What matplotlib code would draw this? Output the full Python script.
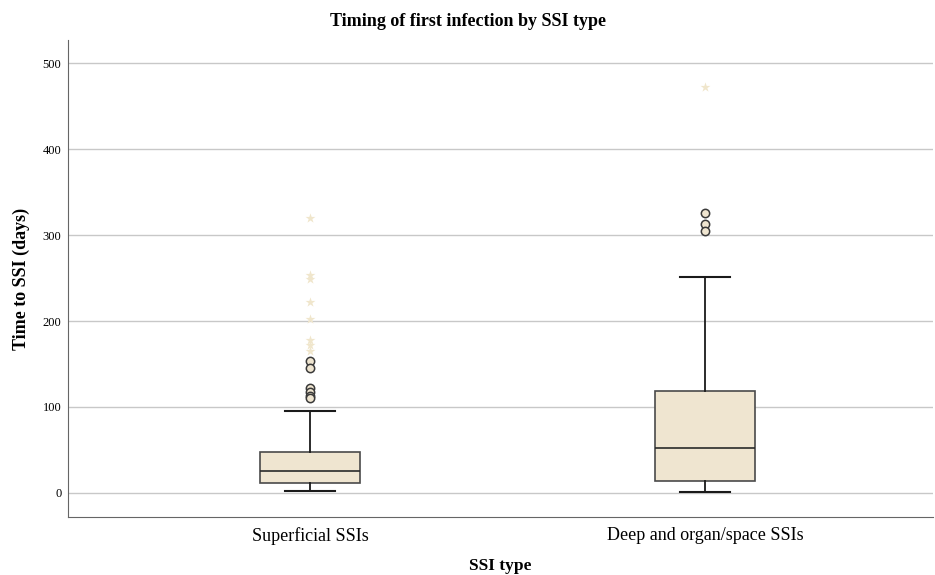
import matplotlib.pyplot as plt

plt.rcParams['font.family'] = ['Liberation Serif', 'DejaVu Serif']

groups = ['Superficial SSIs', 'Deep and organ/space SSIs']
q1 = [11.6, 14.3]
median = [25.6, 52.7]
q3 = [47.7, 118.6]
whislo = [2.5, 1.5]
whishi = [95, 251]
# mild outliers (circles) and extreme outliers (stars)
outliers = [[153, 145, 122, 118, 113, 111], [326, 313, 305]]
extremes = [[320, 254, 249, 222, 202, 178, 172, 165], [473]]

box_color = '#EFE5D0'

fig = plt.figure(figsize=(9.35, 5.75), dpi=100)
ax = fig.add_axes([0.073, 0.101, 0.925, 0.829])

stats = []
for i, g in enumerate(groups):
    stats.append(dict(label=g, q1=q1[i], med=median[i], q3=q3[i],
                      whislo=whislo[i], whishi=whishi[i], fliers=[]))

pos = [1, 2]
ax.bxp(stats, positions=pos, widths=0.253, patch_artist=True, showfliers=False,
       boxprops=dict(facecolor=box_color, edgecolor='#4a4a4a', linewidth=1.2),
       medianprops=dict(color='#2a2a2a', linewidth=1.2),
       whiskerprops=dict(color='#1a1a1a', linewidth=1.3),
       capprops=dict(color='#1a1a1a', linewidth=1.5),
       capwidths=0.126, zorder=3)

for i, p in enumerate(pos):
    ax.scatter([p] * len(outliers[i]), outliers[i], s=36, marker='o',
               facecolor=box_color, edgecolor='#3a3a3a', linewidth=1.1, zorder=4)
    ax.scatter([p] * len(extremes[i]), extremes[i], s=55, marker='*',
               color='#F0E6CC', linewidth=0, zorder=4)

ax.set_xlim(0.387, 2.577)
ax.set_ylim(-28, 527)
ax.set_yticks([0, 100, 200, 300, 400, 500])
ax.yaxis.grid(True, color='#c8c8c8', linewidth=1.0)
ax.set_axisbelow(True)
ax.tick_params(axis='y', labelsize=9, length=0, pad=5)
ax.tick_params(axis='x', labelsize=13, length=0, pad=7)

for s in ['top', 'right']:
    ax.spines[s].set_visible(False)
for s in ['left', 'bottom']:
    ax.spines[s].set_color('#666666')

ax.set_xlabel('SSI type', fontsize=12.5, fontweight='bold', labelpad=10)
ax.set_ylabel('Time to SSI (days)', fontsize=13, fontweight='bold', labelpad=9)
fig.suptitle('Timing of first infection by SSI type', fontsize=13,
             fontweight='bold', x=0.5, y=0.978)

fig.savefig('out.png', dpi=100)
